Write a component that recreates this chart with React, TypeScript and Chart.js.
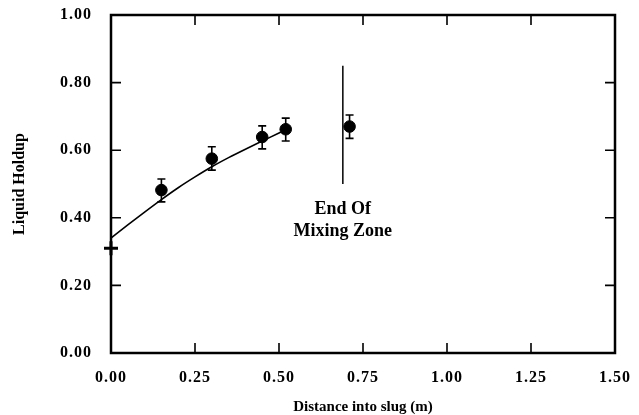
import { useEffect, useRef } from "react";
import { Chart, registerables } from "chart.js";

Chart.register(...registerables);

// Measured liquid holdup along the slug, with error-bar limits
const measuredX = [0.15, 0.3, 0.45, 0.52, 0.71];
const measuredHoldup = [0.482, 0.575, 0.639, 0.662, 0.67];
const holdupLow = [0.447, 0.541, 0.604, 0.627, 0.635];
const holdupHigh = [0.515, 0.61, 0.672, 0.695, 0.704];

// Holdup at the slug front
const frontX = [0.0];
const frontHoldup = [0.31];

// Fitted development curve
const fitX = [0, 0.05, 0.1, 0.15, 0.2, 0.25, 0.3, 0.35, 0.4, 0.45, 0.5, 0.515];
const fitHoldup = [0.34, 0.379, 0.417, 0.454, 0.489, 0.521, 0.551, 0.578, 0.603, 0.627, 0.651, 0.658];

// End of mixing zone marker
const mixingEndX = 0.69;
const mixingEndSpan = [0.5, 0.85];
const mixingLabelLines = ["End Of", "Mixing Zone"];
const mixingLabelY = [0.425, 0.36];

const xTicks = [0, 0.25, 0.5, 0.75, 1.0, 1.25, 1.5];
const yTicks = [0, 0.2, 0.4, 0.6, 0.8, 1.0];

const xTitle = "Distance into slug (m)";
const yTitle = "Liquid Holdup";

const SERIF = "'Liberation Serif', 'Times New Roman', serif";
const INK = "#000";

const errorBarPlugin = {
  id: "errorBars",
  beforeDatasetsDraw(chart: any) {
    const { ctx, scales } = chart;
    const xs = scales.x;
    const ys = scales.y;
    ctx.save();
    (ctx as any).letterSpacing = "0px";
    ctx.strokeStyle = INK;
    ctx.lineWidth = 1.6;
    const half = 4;
    measuredX.forEach((xv, i) => {
      const px = xs.getPixelForValue(xv);
      const top = ys.getPixelForValue(holdupHigh[i]);
      const bot = ys.getPixelForValue(holdupLow[i]);
      ctx.beginPath();
      ctx.moveTo(px, top);
      ctx.lineTo(px, bot);
      ctx.moveTo(px - half, top);
      ctx.lineTo(px + half, top);
      ctx.moveTo(px - half, bot);
      ctx.lineTo(px + half, bot);
      ctx.stroke();
    });
    ctx.restore();
  },
};

// Wider digit spacing for the axis tick labels
const tickSpacingPlugin = {
  id: "tickSpacing",
  beforeDraw(chart: any) {
    (chart.ctx as any).letterSpacing = "1px";
  },
  beforeDatasetsDraw(chart: any) {
    (chart.ctx as any).letterSpacing = "0px";
  },
};

const framePlugin = {
  id: "frameTicks",
  afterDraw(chart: any) {
    const { ctx, chartArea, scales } = chart;
    const { left, right, top, bottom } = chartArea;
    const len = 10;
    ctx.save();
    ctx.strokeStyle = INK;
    ctx.lineWidth = 1.6;
    ctx.beginPath();
    xTicks.forEach((v) => {
      const px = scales.x.getPixelForValue(v);
      ctx.moveTo(px, bottom);
      ctx.lineTo(px, bottom - len);
      ctx.moveTo(px, top);
      ctx.lineTo(px, top + len);
    });
    yTicks.forEach((v) => {
      const py = scales.y.getPixelForValue(v);
      ctx.moveTo(left, py);
      ctx.lineTo(left + len, py);
      ctx.moveTo(right, py);
      ctx.lineTo(right - len, py);
    });
    ctx.stroke();
    ctx.lineWidth = 2.5;
    ctx.strokeRect(left, top, right - left, bottom - top);
    ctx.restore();
  },
};

const textPlugin = {
  id: "chartText",
  afterDraw(chart: any) {
    const { ctx, chartArea, scales } = chart;
    ctx.save();
    (ctx as any).letterSpacing = "0px";
    ctx.fillStyle = INK;
    ctx.textAlign = "center";
    ctx.textBaseline = "middle";

    ctx.font = `bold 18px ${SERIF}`;
    const mx = scales.x.getPixelForValue(mixingEndX);
    mixingLabelLines.forEach((line, i) => {
      ctx.fillText(line, mx, scales.y.getPixelForValue(mixingLabelY[i]));
    });

    ctx.font = `bold 15px ${SERIF}`;
    ctx.fillText(xTitle, (chartArea.left + chartArea.right) / 2, 407);

    ctx.save();
    ctx.translate(20, (chartArea.top + chartArea.bottom) / 2);
    ctx.rotate(-Math.PI / 2);
    ctx.font = `bold 16px ${SERIF}`;
    ctx.fillText(yTitle, 0, 0);
    ctx.restore();

    ctx.restore();
  },
};

export default function App() {
  const canvasRef = useRef<HTMLCanvasElement | null>(null);

  useEffect(() => {
    if (!canvasRef.current) return;
    const tickFont = { family: SERIF, size: 16, weight: "bold" as const };
    const chart = new Chart(canvasRef.current, {
      type: "scatter",
      data: {
        datasets: [
          {
            type: "line",
            label: "fit",
            data: fitX.map((x, i) => ({ x, y: fitHoldup[i] })),
            borderColor: INK,
            borderWidth: 1.6,
            pointRadius: 0,
            cubicInterpolationMode: "monotone",
            fill: false,
          },
          {
            type: "line",
            label: "mixing end",
            data: mixingEndSpan.map((y) => ({ x: mixingEndX, y })),
            borderColor: INK,
            borderWidth: 1.5,
            pointRadius: 0,
            fill: false,
          },
          {
            label: "measured",
            data: measuredX.map((x, i) => ({ x, y: measuredHoldup[i] })),
            backgroundColor: INK,
            borderColor: INK,
            pointRadius: 5.8,
            pointHoverRadius: 5.8,
          },
          {
            label: "front",
            data: frontX.map((x, i) => ({ x, y: frontHoldup[i] })),
            pointStyle: "cross",
            borderColor: INK,
            borderWidth: 3,
            pointRadius: 7,
            pointHoverRadius: 7,
            clip: false,
          },
        ],
      },
      options: {
        animation: false,
        responsive: true,
        maintainAspectRatio: false,
        events: [],
        layout: { padding: { top: 15, right: 24, left: 0, bottom: 0 } },
        plugins: {
          legend: { display: false },
          tooltip: { enabled: false },
        },
        scales: {
          x: {
            type: "linear",
            min: 0,
            max: 1.5,
            grid: { display: false, drawTicks: false },
            border: { display: false },
            afterBuildTicks: (s: any) => {
              s.ticks = xTicks.map((value) => ({ value }));
            },
            afterFit: (s: any) => {
              s.height = 62;
              s.paddingLeft = 0;
              s.paddingRight = 0;
            },
            ticks: {
              color: INK,
              font: tickFont,
              padding: 15,
              maxRotation: 0,
              callback: (v: any) => Number(v).toFixed(2),
            },
          },
          y: {
            type: "linear",
            min: 0,
            max: 1,
            grid: { display: false, drawTicks: false },
            border: { display: false },
            afterBuildTicks: (s: any) => {
              s.ticks = yTicks.map((value) => ({ value }));
            },
            afterFit: (s: any) => {
              s.width = 111;
              s.paddingTop = 0;
              s.paddingBottom = 0;
            },
            ticks: {
              color: INK,
              font: tickFont,
              padding: 19,
              callback: (v: any) => Number(v).toFixed(2),
            },
          },
        },
      },
      plugins: [tickSpacingPlugin, errorBarPlugin, framePlugin, textPlugin],
    });
    return () => chart.destroy();
  }, []);

  return (
    <div style={{ position: "absolute", left: 0, top: 0, width: 639, height: 415, background: "#fff" }}>
      <canvas ref={canvasRef} />
    </div>
  );
}
